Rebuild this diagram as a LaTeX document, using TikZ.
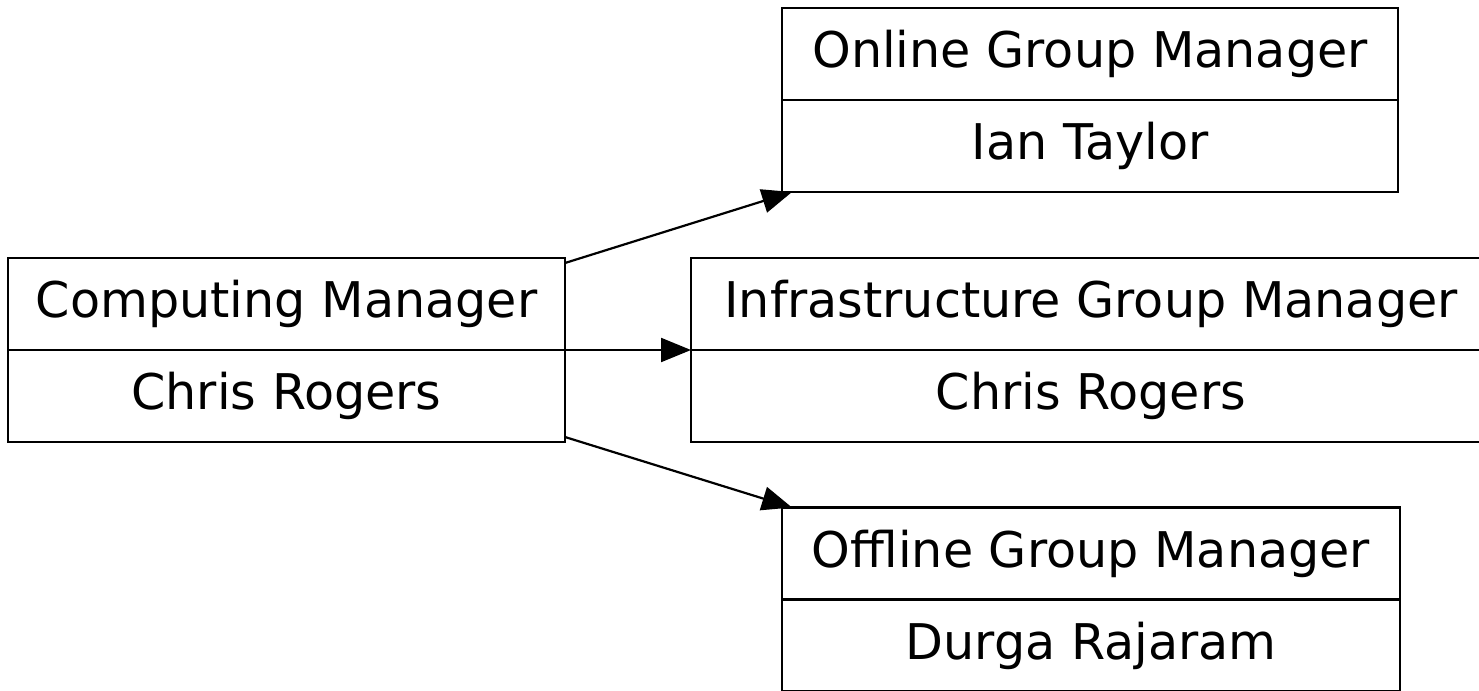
\documentclass[tikz,border=0pt]{standalone}
\usepackage{fontspec}
\setmainfont{DejaVu Sans}
\usepackage{tikz}
\usetikzlibrary{positioning,arrows.meta}

\begin{document}
\begin{tikzpicture}[x=0.5pt,y=-0.5pt,
    rec/.style={draw,line width=1.3pt,inner sep=0pt,outer sep=0pt,
      minimum height=46pt,font=\fontsize{24.6pt}{28pt}\selectfont},
    conn/.style={line width=1.1pt,-{Triangle[length=15pt,width=12pt]}}]
  \clip (0,0) rectangle (1479,691);
  \fill[white] (0,0) rectangle (1479,691);
  % records: name/x/y/width/title/person
  \foreach \n/\x/\y/\w/\t/\p in {%
    cm/286.5/304/278.5/Computing Manager/Chris Rogers,%
    ol/1090/54/308/Online Group Manager/Ian Taylor,%
    inf/1091/304/400/Infrastructure Group Manager/Chris Rogers,%
    off/1091/553.5/309/Offline Group Manager/Durga Rajaram%
    } {
     \node[rec,minimum width=\w pt] (\n) at (\x,\y) {\t};
     \node[rec,minimum width=\w pt,below=0pt of \n] (\n-p) {\p};
    }
  \draw[conn] ([yshift=-2.5pt]cm.north east) -- ([xshift=5pt]ol-p.south west);
  \draw[conn] (cm.south east) -- (inf.south west);
  \draw[conn] ([yshift=2.5pt]cm-p.south east) -- ([xshift=5pt]off.north west);
\end{tikzpicture}
\end{document}
